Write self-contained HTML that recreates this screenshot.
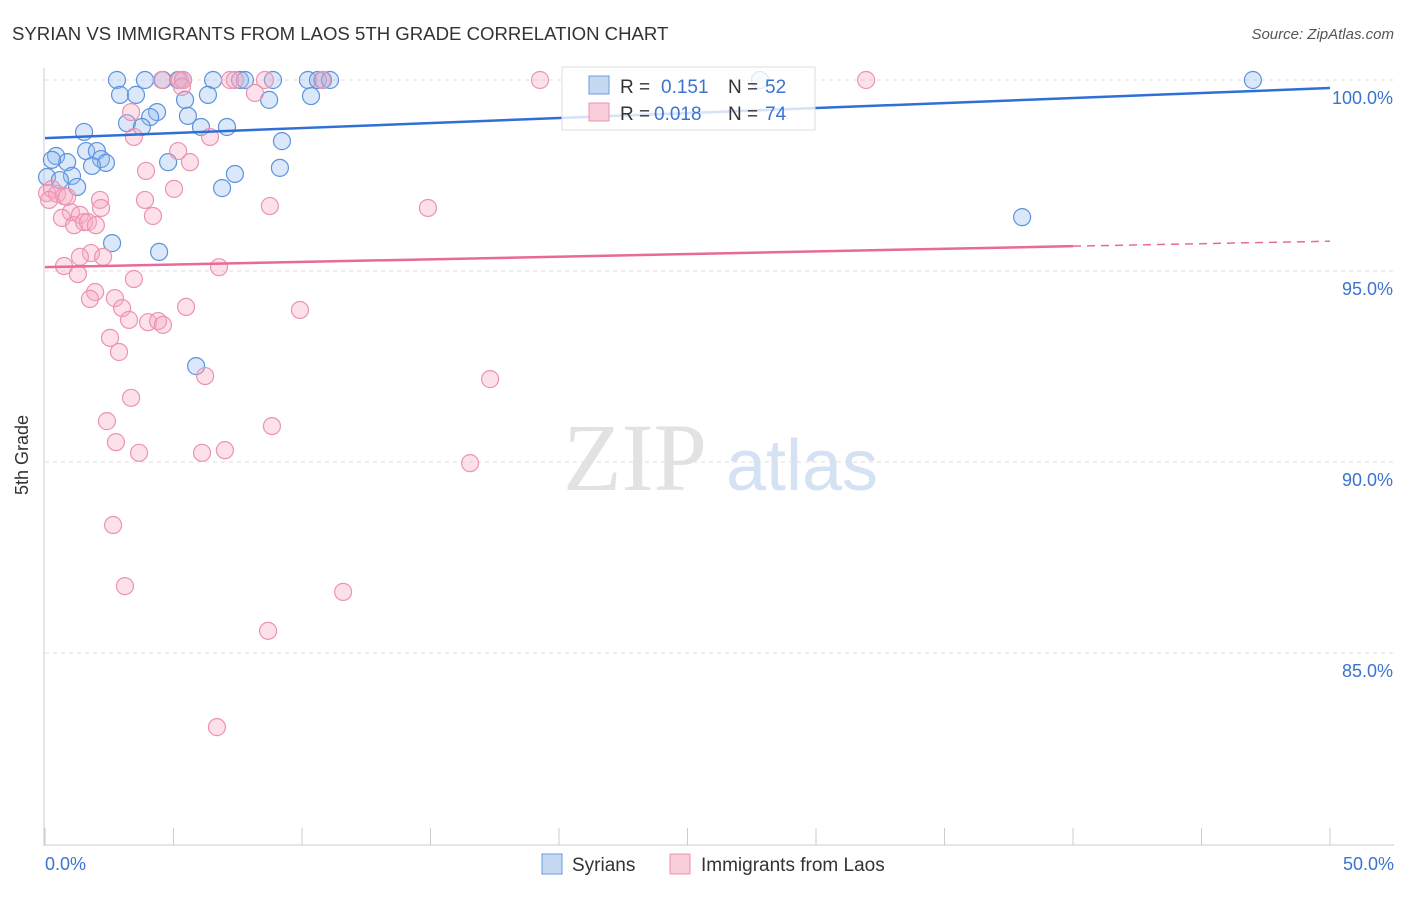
<!DOCTYPE html>
<html><head><meta charset="utf-8"><style>
body{margin:0;background:#fff;font-family:"Liberation Sans",sans-serif}
</style></head><body>
<svg width="1406" height="892" font-family="Liberation Sans, sans-serif">
<text x="12" y="40" font-size="18.6" fill="#333">SYRIAN VS IMMIGRANTS FROM LAOS 5TH GRADE CORRELATION CHART</text>
<text x="1394" y="39" font-size="15" fill="#555" font-style="italic" text-anchor="end">Source: ZipAtlas.com</text>
<text x="635" y="490" font-size="96" fill="#e2e2e2" font-family="Liberation Serif, serif" text-anchor="middle">ZIP</text>
<text x="802" y="490" font-size="72" fill="#d5e2f3" text-anchor="middle">atlas</text>
<g id="grid"></g>
<line x1="44" y1="68" x2="44" y2="846" stroke="#ccc"/>
<line x1="44" y1="845" x2="1394" y2="845" stroke="#ccc"/>
<g id="ticks"></g>
<g id="pts"></g>
<g id="lines"></g>
<text x="28" y="455" font-size="18" fill="#333" transform="rotate(-90 28 455)" text-anchor="middle">5th Grade</text>
<text x="45" y="870" font-size="18" fill="#3a74d0">0.0%</text>
<text x="1394" y="870" font-size="18" fill="#3a74d0" text-anchor="end">50.0%</text>
<g>
<rect x="562" y="67" width="253" height="63" fill="#fff" fill-opacity="0.8" stroke="#ddd"/>
<rect x="589" y="76" width="20" height="18" fill="#c5d9f3" stroke="#6c9be0"/>
<rect x="589" y="103" width="20" height="18" fill="#f9cdd9" stroke="#eb93ad"/>
<text x="620" y="93" font-size="19" fill="#333">R = </text><text x="661" y="93" font-size="19" fill="#3a74d0">0.151</text>
<text x="728" y="93" font-size="19" fill="#333">N = </text><text x="765" y="93" font-size="19" fill="#3a74d0">52</text>
<text x="620" y="120" font-size="19" fill="#333">R = </text><text x="654" y="120" font-size="19" fill="#3a74d0">0.018</text>
<text x="728" y="120" font-size="19" fill="#333">N = </text><text x="765" y="120" font-size="19" fill="#3a74d0">74</text>
</g>
<g><rect x="542" y="854" width="20" height="20" fill="#c5d9f3" stroke="#6c9be0"/><text x="572" y="871" font-size="19" fill="#333">Syrians</text></g>
<g><rect x="670" y="854" width="20" height="20" fill="#f9cdd9" stroke="#eb93ad"/><text x="701" y="871" font-size="19" fill="#333">Immigrants from Laos</text></g>
</svg>
<script>
const yTicks=[100,95,90,85];
const yTickLabels=["100.0%","95.0%","90.0%","85.0%"];
const syrX=[2.80,3.89,4.59,5.18,5.37,6.54,7.59,7.78,8.87,10.23,10.62,10.82,11.09,47.00,27.82,2.92,3.54,5.45,6.34,8.72,10.35,4.36,4.09,5.56,3.19,3.77,6.07,7.08,1.52,9.22,0.43,0.86,1.60,2.02,2.18,2.37,1.83,4.79,9.14,7.39,1.05,1.25,6.89,38.02,2.61,4.44,5.88,0.08,0.27,0.58];
const syrY=[100,100,100,100,100,100,100,100,100,100,100,100,100,100,100,99.61,99.61,99.48,99.61,99.48,99.58,99.16,99.03,99.06,98.87,98.77,98.77,98.77,98.64,98.40,98.01,97.85,98.14,98.14,97.93,97.83,97.75,97.85,97.70,97.54,97.49,97.20,97.17,96.41,95.73,95.50,92.51,97.46,97.91,97.38];
const laoX=[4.55,5.25,5.37,7.20,7.39,8.56,10.78,19.26,31.95,8.17,5.33,3.35,3.46,6.42,5.18,5.64,3.93,5.02,3.89,4.20,8.75,14.90,2.14,0.08,0.27,0.47,0.74,0.16,0.86,1.01,0.66,1.13,1.36,1.52,1.67,1.98,2.18,1.79,0.74,1.36,2.26,1.28,3.46,6.77,1.95,1.75,2.72,3.00,5.49,3.27,4.01,4.40,4.59,9.92,2.53,2.88,6.23,17.32,3.35,2.41,8.83,2.76,3.66,6.11,7.00,16.54,2.65,3.11,11.60,8.68,6.69];
const laoY=[100,100,100,100,100,100,100,100,100,99.66,99.82,99.16,98.51,98.51,98.14,97.85,97.62,97.15,96.86,96.44,96.70,96.65,96.86,97.04,97.15,97.02,96.96,96.86,96.94,96.54,96.39,96.20,96.47,96.28,96.28,96.20,96.65,95.47,95.13,95.37,95.37,94.92,94.79,95.10,94.45,94.27,94.29,94.03,94.06,93.72,93.66,93.69,93.59,93.98,93.25,92.88,92.25,92.17,91.68,91.07,90.94,90.52,90.24,90.24,90.31,89.97,88.35,86.75,86.60,85.58,83.06];
const syrTrend=[98.48,99.79];
const laoTrend=[95.10,95.65,95.78];
const NS="http://www.w3.org/2000/svg";
const xs=v=>45+v*25.7, ys=v=>80+(100-v)*38.2;
function mk(t,a,p){const e=document.createElementNS(NS,t);for(const k in a)e.setAttribute(k,a[k]);p.appendChild(e);return e;}
const grid=document.getElementById('grid');
yTicks.forEach((t,i)=>{
 const l=mk('line',{x1:45,x2:1394,y1:ys(t),y2:ys(t),stroke:'#ddd','stroke-dasharray':'4,4'},grid);
 
 
 const tx=mk('text',{x:1393,y:ys(t)+24,'font-size':18,fill:'#3a74d0','text-anchor':'end'},grid);
 tx.textContent=yTickLabels[i];
 
 
});
const tk=document.getElementById('ticks');
for(let i=0;i<=10;i++){const l=mk('line',{x1:xs(i*5),x2:xs(i*5),y1:828,y2:845,stroke:'#ccc'},tk);
 
 }
const pts=document.getElementById('pts');
syrX.forEach((x,i)=>{const c=mk('circle',{cx:xs(x),cy:ys(syrY[i]),r:8.5,fill:'rgba(150,188,238,0.35)',stroke:'#5d93dd','stroke-width':1.2},pts);
 
 });
laoX.forEach((x,i)=>{const c=mk('circle',{cx:xs(x),cy:ys(laoY[i]),r:8.5,fill:'rgba(246,170,195,0.35)',stroke:'#ec93b0','stroke-width':1.2},pts);
 
 });
const ln=document.getElementById('lines');
const a=mk('line',{x1:xs(0),y1:ys(syrTrend[0]),x2:xs(50),y2:ys(syrTrend[1]),stroke:'#2f6fd6','stroke-width':2.5},ln);


const b=mk('line',{x1:xs(0),y1:ys(laoTrend[0]),x2:xs(40),y2:ys(laoTrend[1]),stroke:'#e8699a','stroke-width':2.5},ln);


const c=mk('line',{x1:xs(40),y1:ys(laoTrend[1]),x2:xs(50),y2:ys(laoTrend[2]),stroke:'#e8699a','stroke-width':1.5,'stroke-dasharray':'8,6'},ln);


</script>
</body></html>
